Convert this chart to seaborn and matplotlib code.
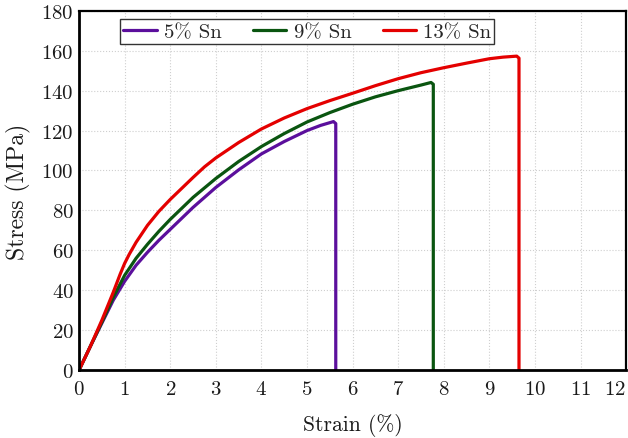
import pandas as pd
import matplotlib
matplotlib.use("Agg")
import matplotlib.pyplot as plt
import seaborn as sns

# stress-strain curves (strain in %, stress in MPa)
strain_5 = [0, 0.25, 0.5, 0.75, 1.0, 1.25, 1.5, 1.75, 2.0, 2.5, 3.0, 3.5, 4.0, 4.5, 5.0, 5.3, 5.58, 5.63, 5.63]
stress_5 = [0, 12, 23.5, 35, 44.5, 52.5, 59, 65, 70.5, 81.5, 91.5, 100.3, 108.3, 114.5, 120, 122.6, 124.5, 123.5, 0]

strain_9 = [0, 0.25, 0.5, 0.75, 1.0, 1.25, 1.5, 1.75, 2.0, 2.5, 3.0, 3.5, 4.0, 4.5, 5.0, 5.5,
            6.0, 6.5, 7.0, 7.5, 7.72, 7.77, 7.77]
stress_9 = [0, 12, 24, 36.5, 47.5, 56, 63, 69.5, 75.5, 86.5, 96, 104.5, 112, 118.5, 124.3, 129,
            133.2, 136.9, 140, 142.8, 144.1, 143.2, 0]

strain_13 = [0, 0.25, 0.5, 0.75, 0.9, 1.0, 1.1, 1.25, 1.5, 1.75, 2.0, 2.25, 2.5, 2.75, 3.0, 3.5, 4.0, 4.5,
             5.0, 5.5, 6.0, 6.5, 7.0, 7.5, 8.0, 8.5, 9.0, 9.3, 9.6, 9.65, 9.65]
stress_13 = [0, 12, 25, 39, 48, 53.5, 58, 64, 72.5, 79.5, 85.5, 91, 96.5, 101.8, 106.3, 114, 120.8, 126.3,
             131, 135, 138.7, 142.5, 146, 149, 151.5, 153.8, 156, 156.8, 157.3, 156.3, 0]

labels = ["5% Sn", "9% Sn", "13% Sn"]
colors = ["#5b0f9c", "#0a5510", "#e40000"]

xticks = list(range(0, 13))
yticks = list(range(0, 181, 20))

frames = []
for lab, xs, ys in zip(labels, [strain_5, strain_9, strain_13], [stress_5, stress_9, stress_13]):
    frames.append(pd.DataFrame({"strain": xs, "stress": ys, "alloy": lab}))
df = pd.concat(frames, ignore_index=True)

sns.set_style("whitegrid")
plt.rcParams["font.family"] = ["cmr10", "DejaVu Serif"]
plt.rcParams["axes.formatter.use_mathtext"] = True
plt.rcParams["mathtext.fontset"] = "cm"

fig = plt.figure(figsize=(6.28, 4.39), dpi=100)
ax = fig.add_axes([0.126, 0.155, 0.871, 0.818])

sns.lineplot(data=df, x="strain", y="stress", hue="alloy", hue_order=labels,
             palette=colors, sort=False, estimator=None, units="alloy",
             linewidth=2.3, ax=ax)
for ln in ax.get_lines():
    ln.set_solid_joinstyle("round")
    ln.set_solid_capstyle("round")

ax.set_xlim(0, 12)
ax.set_ylim(0, 180)
ax.set_xticks(xticks)
ax.set_yticks(yticks)
ax.tick_params(axis="both", length=0, labelsize=15, colors="#1a1a1a")
ax.tick_params(axis="x", pad=7)
ax.tick_params(axis="y", pad=4)
# last x label sits against the figure edge, as in the reference
ax.get_xticklabels()[-1].set_horizontalalignment("right")
ax.get_xticklabels()[-1].set_x(12.2)
ax.grid(True, color="#cfcfcf", linestyle=":", linewidth=0.8)
for side, sp in ax.spines.items():
    sp.set_color("black")
    sp.set_linewidth(2.0 if side in ("left", "bottom") else 1.6)

ax.set_xlabel("Strain (%)", fontsize=15.5, labelpad=11, color="#1a1a1a")
ax.set_ylabel("Stress (MPa)", fontsize=17, labelpad=7, color="#1a1a1a")

leg = ax.legend(loc="upper left", bbox_to_anchor=(0.075, 0.977), ncol=3,
                fontsize=15, frameon=True, fancybox=False, handlelength=1.6,
                columnspacing=1.5, handletextpad=0.35, borderpad=0.15,
                borderaxespad=0)
leg.get_frame().set_edgecolor("#333333")
leg.get_frame().set_linewidth(1.0)
leg.get_frame().set_alpha(1)
for h in leg.get_lines():
    h.set_linewidth(2.3)

fig.savefig("out.png", dpi=100)
